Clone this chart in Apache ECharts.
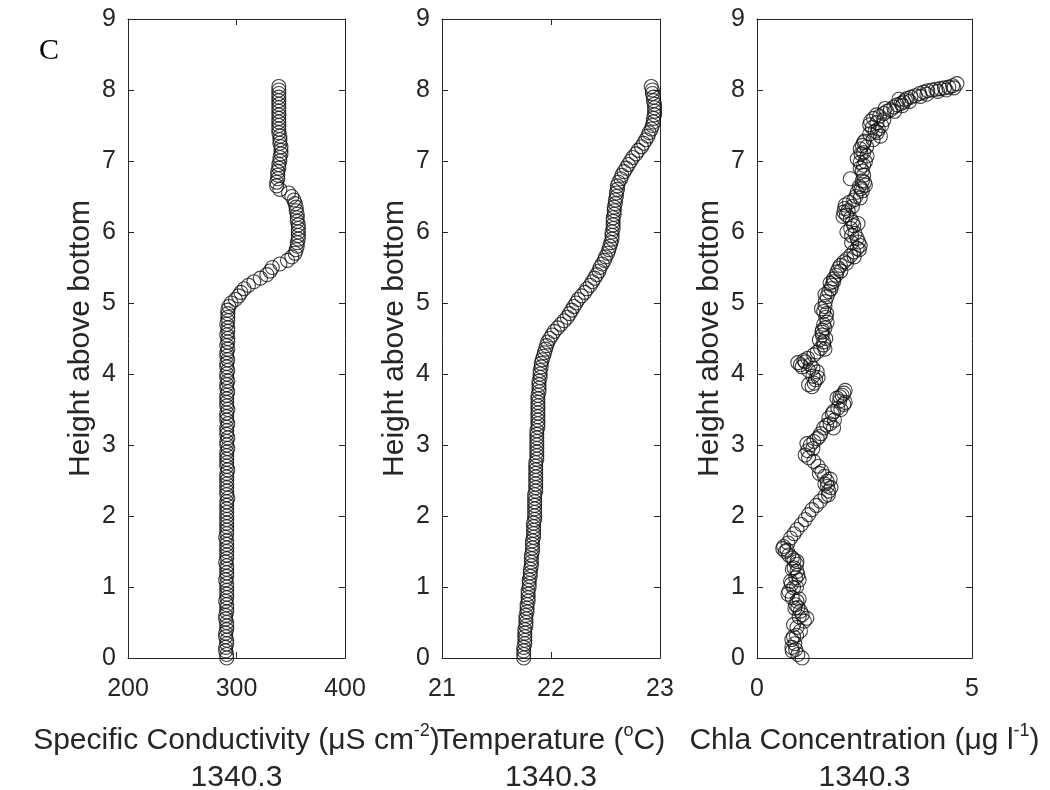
<!DOCTYPE html>
<html>
<head>
<meta charset="utf-8">
<script src="https://cdn.jsdelivr.net/npm/echarts@6/dist/echarts.min.js"></script>
<style>
html,body{margin:0;padding:0;background:#fff;}
#chart{width:1050px;height:790px;}
</style>
</head>
<body>
<div id="chart"></div>
<script>
// ---- data (height above bottom, m) ----
const heights = [
 0.00,0.05,0.10,0.15,0.20,0.25,0.30,0.35,0.40,0.45,
 0.50,0.55,0.60,0.65,0.70,0.75,0.80,0.85,0.90,0.95,
 1.00,1.05,1.10,1.15,1.20,1.25,1.30,1.35,1.40,1.45,
 1.50,1.55,1.60,1.65,1.70,1.75,1.80,1.85,1.90,1.95,
 2.00,2.05,2.10,2.15,2.20,2.25,2.30,2.35,2.40,2.45,
 2.50,2.55,2.60,2.65,2.70,2.75,2.80,2.85,2.90,2.95,
 3.00,3.05,3.10,3.15,3.20,3.25,3.30,3.35,3.40,3.45,
 3.50,3.55,3.60,3.65,3.70,3.75,3.80,3.85,3.90,3.95,
 4.00,4.05,4.10,4.15,4.20,4.25,4.30,4.35,4.40,4.45,
 4.50,4.55,4.60,4.65,4.70,4.75,4.80,4.85,4.90,4.95,
 5.00,5.05,5.10,5.15,5.20,5.25,5.30,5.35,5.40,5.45,
 5.50,5.55,5.60,5.65,5.70,5.75,5.80,5.85,5.90,5.95,
 6.00,6.05,6.10,6.15,6.20,6.25,6.30,6.35,6.40,6.45,
 6.50,6.55,6.60,6.65,6.70,6.75,6.80,6.85,6.90,6.95,
 7.00,7.05,7.10,7.15,7.20,7.25,7.30,7.35,7.40,7.45,
 7.50,7.55,7.60,7.65,7.70,7.75,7.80,7.85,7.90,7.95,
 8.00,8.05
];
const conductivity = [
 291,291,290,290,291,291,290,290,291,291,
 291,290,290,291,291,291,290,291,291,291,
 291,291,290,291,291,291,291,290,291,291,
 291,291,291,291,290,291,291,291,291,291,
 291,291,291,291,291,292,291,291,291,291,
 291,291,291,292,291,291,291,291,291,292,
 291,291,292,291,291,291,292,291,291,291,
 292,291,291,291,291,292,291,291,292,291,
 291,292,291,291,292,291,291,292,291,292,
 292,291,292,292,291,292,292,292,292,293,
 295,299,302,304,307,311,316,322,328,331,
 333,340,347,351,354,355,356,356,357,357,
 357,357,357,356,356,356,355,355,354,353,
 351,348,340,337,337,338,338,338,339,339,
 340,340,341,341,341,340,340,340,339,339,
 339,339,339,339,339,339,339,339,339,339,
 339,339
];
const temperature = [
 21.75,21.75,21.75,21.75,21.76,21.76,21.76,21.76,21.76,21.77,
 21.77,21.77,21.77,21.78,21.78,21.78,21.79,21.79,21.79,21.79,
 21.80,21.80,21.80,21.81,21.81,21.81,21.82,21.82,21.82,21.82,
 21.83,21.83,21.83,21.83,21.84,21.84,21.84,21.84,21.84,21.85,
 21.85,21.85,21.85,21.85,21.85,21.85,21.85,21.86,21.86,21.86,
 21.86,21.86,21.86,21.86,21.86,21.86,21.87,21.87,21.87,21.87,
 21.87,21.87,21.87,21.87,21.87,21.88,21.88,21.88,21.88,21.88,
 21.88,21.88,21.88,21.88,21.88,21.89,21.89,21.89,21.89,21.90,
 21.90,21.90,21.91,21.91,21.92,21.93,21.94,21.95,21.96,21.97,
 21.99,22.01,22.03,22.06,22.09,22.12,22.15,22.17,22.19,22.21,
 22.23,22.25,22.28,22.31,22.33,22.36,22.38,22.40,22.42,22.44,
 22.45,22.47,22.49,22.50,22.52,22.53,22.54,22.55,22.56,22.56,
 22.56,22.57,22.57,22.57,22.57,22.58,22.58,22.58,22.59,22.59,
 22.60,22.60,22.61,22.61,22.62,22.64,22.65,22.67,22.69,22.71,
 22.73,22.75,22.78,22.80,22.83,22.85,22.87,22.89,22.90,22.92,
 22.93,22.94,22.94,22.95,22.95,22.95,22.95,22.94,22.94,22.93,
 22.93,22.92
];
const chlaHeights = [
 0.00,0.05,0.10,0.15,0.20,0.26,0.32,0.38,0.43,0.47,
 0.52,0.56,0.61,0.66,0.71,0.75,0.80,0.85,0.90,0.94,
 0.99,1.04,1.08,1.13,1.17,1.22,1.27,1.32,1.36,1.41,
 1.45,1.50,1.54,1.57,1.62,1.69,1.75,1.81,1.88,1.95,
 2.02,2.09,2.15,2.21,2.28,2.35,2.42,2.49,2.56,2.63,
 2.70,2.77,2.82,2.86,2.92,3.00,3.05,3.09,3.16,3.24,
 3.24,3.30,3.38,3.44,3.47,3.52,3.57,3.62,3.66,3.70,
 3.77,3.82,3.87,3.92,3.97,4.03,4.08,4.13,4.13,4.17,
 4.19,4.22,4.27,4.31,4.36,4.41,4.45,4.50,4.55,4.59,
 4.65,4.73,4.80,4.88,4.95,5.02,5.09,5.16,5.20,5.25,
 5.30,5.34,5.39,5.44,5.49,5.53,5.58,5.62,5.67,5.72,
 5.77,5.81,5.86,5.91,5.95,6.00,6.05,6.09,6.14,6.19,
 6.24,6.28,6.33,6.38,6.42,6.45,6.50,6.56,6.61,6.66,
 6.70,6.75,6.80,6.86,6.94,6.98,7.03,7.07,7.12,7.17,
 7.22,7.26,7.30,7.35,7.40,7.42,7.47,7.51,7.54,7.56,
 7.60,7.63,7.67,7.70,7.72,7.76,7.79,7.81,7.83,7.86,
 7.88,7.90,7.92,7.95,7.97,7.99,8.00,8.01,8.02,8.03,
 8.04,8.06,8.09,
 0.12,0.30,0.58,0.70,0.83,1.00,1.10,1.25,1.38,1.52,
 2.30,2.40,2.45,2.52,2.60,2.95,3.02,3.12,3.28,3.35,
 3.50,3.60,3.68,3.73,3.85,3.95,4.05,4.10,4.16,4.35,
 4.48,4.62,4.70,4.85,4.92,5.12,5.28,5.45,5.56,5.65,
 5.75,5.85,5.98,6.12,6.22,6.30,6.36,6.48,6.58,6.64,
 6.72,6.90,6.99,7.10,7.20,7.28,7.38,7.45,7.50,7.58,
 7.65,7.70,7.74,7.78,7.84,7.87,7.91,7.94,7.98,8.00,
 8.03
];
const chlaValues = [
 1.05,0.95,0.82,0.81,0.88,0.81,0.92,1.01,0.93,0.85,
 1.10,1.16,1.05,1.01,0.95,0.90,0.93,0.82,0.72,0.74,
 0.85,0.80,0.78,0.90,0.95,0.93,0.86,0.92,0.93,0.82,
 0.74,0.66,0.60,0.62,0.72,0.78,0.86,0.93,1.03,1.12,
 1.20,1.28,1.38,1.47,1.58,1.67,1.64,1.63,1.57,1.51,
 1.42,1.32,1.20,1.12,1.18,1.24,1.32,1.40,1.48,1.55,
 1.78,1.70,1.67,1.75,1.78,1.88,2.02,1.92,1.86,1.98,
 2.05,1.28,1.33,1.36,1.30,1.40,1.30,1.24,1.01,1.12,
 1.09,1.18,1.32,1.40,1.48,1.55,1.55,1.60,1.52,1.51,
 1.58,1.63,1.60,1.55,1.58,1.59,1.63,1.67,1.72,1.74,
 1.78,1.78,1.84,1.86,1.90,1.94,2.02,2.09,2.18,2.25,
 2.33,2.40,2.36,2.33,2.20,2.09,2.18,2.25,2.22,2.17,
 2.08,2.02,2.04,2.05,2.15,2.25,2.30,2.33,2.42,2.52,
 2.50,2.17,2.48,2.45,2.48,2.40,2.33,2.56,2.48,2.40,
 2.45,2.48,2.70,2.87,2.80,2.75,2.68,2.62,2.79,2.64,
 2.71,2.85,2.95,3.02,3.10,3.18,3.26,3.35,3.41,3.45,
 3.49,3.58,3.68,3.78,3.88,3.97,4.07,4.16,4.26,4.36,
 4.46,4.55,4.65,
 0.90,0.85,0.98,0.88,0.98,0.92,0.98,0.82,0.86,0.70,
 1.66,1.72,1.58,1.70,1.45,1.30,1.16,1.45,1.62,1.80,
 1.95,2.05,1.93,2.02,1.20,1.42,1.20,1.05,0.95,1.58,
 1.45,1.52,1.55,1.62,1.50,1.58,1.70,1.95,2.08,2.26,
 2.38,2.20,2.28,2.35,2.00,2.12,2.22,2.40,2.45,2.38,
 2.45,2.40,2.52,2.42,2.55,2.50,2.62,2.82,2.90,2.95,
 2.78,3.20,2.98,3.38,3.55,3.30,3.80,3.95,4.20,4.40,
 4.58
];
const yTickValues = {min: 0, max: 9, interval: 1};
const xRanges = [
  {min: 200, max: 400, interval: 100},
  {min: 21, max: 23, interval: 1},
  {min: 0, max: 5, interval: 5}
];
const yLabel = 'Height above bottom';
const xLabels = [
  '{t|Specific Conductivity (}{t|\u03bc}{t|S cm}{s|-2}{t|)}\n{t|1340.3}',
  '{t|Temperature (}{s|o}{t|C)}\n{t|1340.3}',
  '{t|Chla Concentration (}{t|\u03bc}{t|g l}{s|-1}{t|)}\n{t|1340.3}'
];
const panelLetter = 'C';

// ---- layout / style ----
const FONT = "'Liberation Sans', Arial, Helvetica, sans-serif";
const INK = '#262626';
const grids = [
  {left: 128, top: 19, width: 217, height: 639, outerBoundsMode: 'none', containLabel: false},
  {left: 442, top: 19, width: 218, height: 639, outerBoundsMode: 'none', containLabel: false},
  {left: 757, top: 19, width: 215, height: 639, outerBoundsMode: 'none', containLabel: false}
];
const lineCommon = {show: true, onZero: false, lineStyle: {color: INK, width: 1}};
const tickCommon = {show: true, inside: true, length: 6, lineStyle: {color: INK, width: 1}};
const rich = {
  t: {fontFamily: FONT, fontSize: 30, color: INK, lineHeight: 37},
  s: {fontFamily: FONT, fontSize: 18, color: INK, lineHeight: 37, verticalAlign: 'top', padding: [0, 0, 14, 0]}
};

const xAxes = [], yAxes = [], series = [];
const seriesData = [
  heights.map((h, i) => [conductivity[i], h]),
  heights.map((h, i) => [temperature[i], h]),
  chlaHeights.map((h, i) => [chlaValues[i], h])
];
for (let i = 0; i < 3; i++) {
  const xr = xRanges[i];
  xAxes.push({
    type: 'value', gridIndex: i, position: 'bottom',
    min: xr.min, max: xr.max, interval: xr.interval,
    axisLine: lineCommon, axisTick: tickCommon, splitLine: {show: false},
    axisLabel: {color: INK, fontSize: 25, fontFamily: FONT, margin: 19, showMinLabel: true, showMaxLabel: true},
    name: xLabels[i], nameLocation: 'middle', nameGap: 64,
    nameTextStyle: {rich: rich, align: 'center', verticalAlign: 'top'}
  });
  xAxes.push({
    type: 'value', gridIndex: i, position: 'top',
    min: xr.min, max: xr.max, interval: xr.interval,
    axisLine: lineCommon, axisTick: tickCommon, splitLine: {show: false},
    axisLabel: {show: false}
  });
  yAxes.push({
    type: 'value', gridIndex: i, position: 'left',
    min: yTickValues.min, max: yTickValues.max, interval: yTickValues.interval,
    axisLine: lineCommon, axisTick: tickCommon, splitLine: {show: false},
    axisLabel: {color: INK, fontSize: 25, fontFamily: FONT, margin: 12},
    name: yLabel, nameLocation: 'middle', nameGap: 32,
    nameTextStyle: {color: INK, fontSize: 30, fontFamily: FONT}
  });
  yAxes.push({
    type: 'value', gridIndex: i, position: 'right',
    min: yTickValues.min, max: yTickValues.max, interval: yTickValues.interval,
    axisLine: lineCommon, axisTick: tickCommon, splitLine: {show: false},
    axisLabel: {show: false}
  });
  series.push({
    type: 'scatter', xAxisIndex: 2 * i, yAxisIndex: 2 * i,
    data: seriesData[i], symbol: 'circle', symbolSize: 14, clip: false,
    itemStyle: {color: 'rgba(0,0,0,0)', borderColor: '#111', borderWidth: 1.1},
    emphasis: {disabled: true}
  });
}

const chart = echarts.init(document.getElementById('chart'), null, {renderer: 'canvas'});
chart.setOption({
  animation: false,
  backgroundColor: '#fff',
  grid: grids,
  xAxis: xAxes,
  yAxis: yAxes,
  series: series,
  graphic: [{
    type: 'text', left: 39, top: 36,
    style: {text: panelLetter, fontFamily: "'Liberation Serif', 'Times New Roman', serif", fontSize: 30, fill: '#000'}
  }]
});
</script>
</body>
</html>
